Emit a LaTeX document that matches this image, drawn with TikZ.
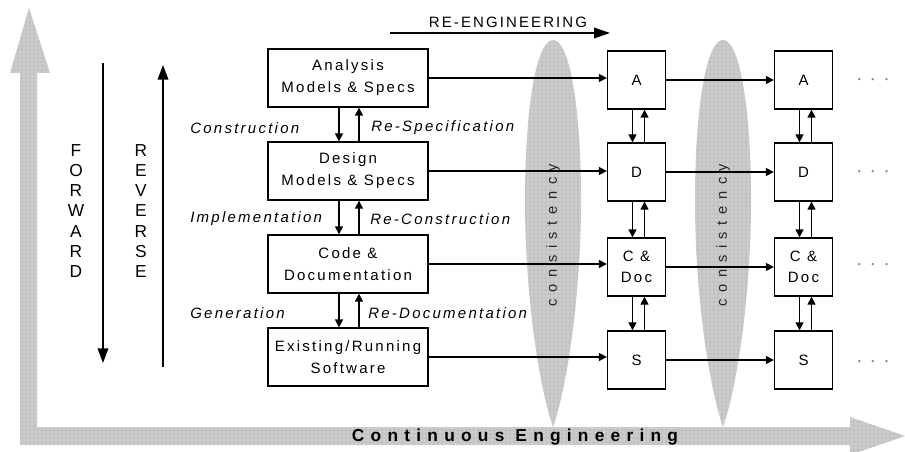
\documentclass[tikz,border=0pt]{standalone}
\usepackage{fontspec}
\setmainfont{Liberation Sans}
\newfontfamily\bfont[LetterSpace=15]{Liberation Sans}
\newfontfamily\rfont[LetterSpace=14]{Liberation Sans}
\newfontfamily\cfont[LetterSpace=36]{Liberation Sans}
\newfontfamily\kfont[LetterSpace=45]{Liberation Sans}
\usetikzlibrary{arrows.meta,patterns,calc}
\definecolor{shade}{HTML}{C4C4C4}
\tikzset{
  shaded/.style={preaction={fill=shade}, pattern=dots, pattern color=white},
  lbox/.style={draw, line width=1pt, minimum width=120pt, minimum height=43.5pt, inner sep=0pt, align=center,
    font=\bfont\fontsize{11.25pt}{16.5pt}\selectfont},
  rbox/.style={draw, line width=1pt, minimum width=43.5pt, minimum height=43.5pt, inner sep=0pt, align=center,
    font=\bfont\fontsize{11.25pt}{15.5pt}\selectfont},
  arr/.style={line width=1pt, -{Triangle[length=6pt,width=6pt]}},
  bigarr/.style={line width=1pt, -{Triangle[length=11pt,width=8pt]}},
  lab/.style={anchor=west, inner sep=0pt, font=\bfont\itshape\fontsize{11.25pt}{12pt}\selectfont},
  vlet/.style={inner sep=0pt, align=center, font=\fontsize{13pt}{15.2pt}\selectfont},
  cons/.style={rotate=90, inner sep=0pt, text=black!85, font=\kfont\fontsize{11pt}{11pt}\selectfont},
  dotsn/.style={inner sep=0pt, text=black!45, font=\fontsize{6.5pt}{6pt}\selectfont}
}
\begin{document}
\begin{tikzpicture}[x=0.75pt,y=-0.75pt]
\useasboundingbox (0,0) rectangle (905,452);
% big gray L arrow
\path[shaded] (29,8) -- (50,73) -- (37,73) -- (37,427) -- (850,427) -- (850,417) -- (905,436)
  -- (850,455) -- (850,445) -- (20,445) -- (20,73) -- (10,73) -- cycle;
% consistency bands
\foreach \cx in {553,723} {
  \path[shaded] (\cx,40) .. controls (\cx-17,40) and (\cx-28,110) .. (\cx-28,200)
    .. controls (\cx-28,300) and (\cx-13,390) .. (\cx,427)
    .. controls (\cx+13,390) and (\cx+28,300) .. (\cx+28,200)
    .. controls (\cx+28,110) and (\cx+17,40) .. (\cx,40) -- cycle;
}
\node[cons] (cons1) at (553,235) {consistency};
\node[cons] (cons2) at (723,235) {consistency};
\node[inner sep=0pt, font=\cfont\bfseries\fontsize{13pt}{13pt}\selectfont] (ce) at (515,437) {Continuous Engineering};

% RE-ENGINEERING
\node[inner sep=0pt, font=\rfont\fontsize{11.25pt}{12pt}\selectfont] (re) at (508,22) {RE-ENGINEERING};
\coordinate (reS) at (390,33);
\coordinate (reE) at (610,33);
\draw[line width=1pt, -{Triangle[length=12pt,width=8pt]}] (reS) -- (reE);

% FORWARD / REVERSE
\node[vlet] (fw) at (76,211) {F\\O\\R\\W\\A\\R\\D};
\node[vlet] (rv) at (141,211) {R\\E\\V\\E\\R\\S\\E};
\coordinate (fwS) at (103,63);
\coordinate (fwE) at (103,363);
\coordinate (rvS) at (163,367);
\coordinate (rvE) at (163,65);
\draw[bigarr] (fwS) -- (fwE);
\draw[bigarr] (rvS) -- (rvE);

% left boxes
\node[lbox] (LA) at (348,78) {Analysis\\Models \& Specs};
\node[lbox] (LD) at (348,171) {Design\\Models \& Specs};
\node[lbox] (LC) at (348,264) {Code \&\\Documentation};
\node[lbox] (LS) at (348,357) {Existing/Running\\Software};

% right boxes
\foreach \n/\cx in {1/636.5,2/803.5} {
  \node[rbox] (A\n) at (\cx,80) {A};
  \node[rbox] (D\n) at (\cx,172) {D};
  \node[rbox] (C\n) at (\cx,267) {C \&\\Doc};
  \node[rbox] (S\n) at (\cx,360) {S};
}

% labels
\node[lab] (l1) at (190,128) {Construction};
\node[lab] (l2) at (371,128) {Re-Specification};
\node[lab] (l3) at (190,219) {Implementation};
\node[lab] (l4) at (370,219) {Re-Construction};
\node[lab] (l5) at (190,313) {Generation};
\node[lab] (l6) at (368,313) {Re-Documentation};

% vertical arrows left column
\foreach \a/\b in {LA/LD,LD/LC,LC/LS} {
  \draw[arr] ($(\a.south)+(-9,0)$) -- ($(\b.north)+(-9,0)$);
  \draw[arr] ($(\b.north)+(11,0)$) -- ($(\a.south)+(11,0)$);
}
% vertical arrows right columns
\foreach \n in {1,2} {
  \foreach \a/\b in {A/D,D/C,C/S} {
    \draw[arr] ($(\a\n.south)+(-4,0)$) -- ($(\b\n.north)+(-4,0)$);
    \draw[arr] ($(\b\n.north)+(8,0)$) -- ($(\a\n.south)+(8,0)$);
  }
}
% horizontal arrows
\draw[arr] (LA.east) -- (LA.east -| A1.west);
\draw[arr] (LD.east) -- (LD.east -| D1.west);
\draw[arr] (LC.east) -- (LC.east -| C1.west);
\draw[arr] (LS.east) -- (LS.east -| S1.west);
\foreach \r in {A,D,C,S} {
  \draw[arr] (\r1.east) -- (\r2.west);
}
% continuation dots
\node[dotsn] (dA) at (873,80) {\textbullet\hspace{8pt}\textbullet\hspace{8pt}\textbullet};
\node[dotsn] (dD) at (873,172) {\textbullet\hspace{8pt}\textbullet\hspace{8pt}\textbullet};
\node[dotsn] (dC) at (873,265) {\textbullet\hspace{8pt}\textbullet\hspace{8pt}\textbullet};
\node[dotsn] (dS) at (873,362) {\textbullet\hspace{8pt}\textbullet\hspace{8pt}\textbullet};
\end{tikzpicture}
\end{document}
